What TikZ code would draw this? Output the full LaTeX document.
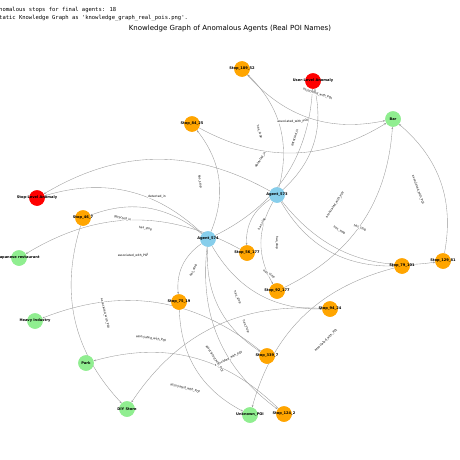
\documentclass[tikz,border=0pt]{standalone}
\usepackage{fontspec}
\setmainfont{DejaVu Sans}
\newfontfamily\monofont{DejaVu Sans Mono}
\usetikzlibrary{arrows.meta}
\definecolor{cskyblue}{HTML}{87CEEB}
\definecolor{corange}{HTML}{FFA500}
\definecolor{cred}{HTML}{FF0000}
\definecolor{cgreen}{HTML}{90EE90}
\tikzset{
  nd/.style={circle, minimum size=15.5pt, inner sep=0pt, draw=none},
  stopn/.style={nd, fill=corange},
  agentn/.style={nd, fill=cskyblue},
  anomn/.style={nd, fill=cred},
  poin/.style={nd, fill=cgreen},
  nlab/.style={font=\fontsize{3.6}{4}\selectfont\bfseries, inner sep=0pt},
  elab/.style={font=\fontsize{3}{3.5}\selectfont, fill=white, inner sep=0.4pt, sloped},
  edgeline/.style={draw=black!40, line width=0.35pt, -{Stealth[length=2.2pt,width=1.8pt]}, bend right=30},
}
\begin{document}
\begin{tikzpicture}[x=1pt,y=-1pt]
\useasboundingbox (0,0) rectangle (460,460);
\fill[white] (0,0) rectangle (460,460);
% header text
\node[anchor=west, inner sep=0pt, font=\monofont\fontsize{5.5}{6}\selectfont] (hdr1) at (-1,9.5) {nomalous stops for final agents: 18};
\node[anchor=west, inner sep=0pt, font=\monofont\fontsize{5.5}{6}\selectfont] (hdr2) at (-1,18.5) {tatic Knowledge Graph as 'knowledge\_graph\_real\_pois.png'.};
\node[inner sep=0pt, font=\fontsize{7}{8}\selectfont] (title) at (230,29) {Knowledge Graph of Anomalous Agents (Real POI Names)};
% nodes
\node[stopn] (s189) at (242,69) {};
\node[anomn] (ula) at (313,81) {};
\node[poin] (bar) at (393,119) {};
\node[stopn] (s84) at (192,124) {};
\node[agentn] (a573) at (277,195) {};
\node[anomn] (sla) at (37,198) {};
\node[stopn] (s46) at (83,218) {};
\node[agentn] (a574) at (208,239) {};
\node[poin] (jap) at (19,258) {};
\node[stopn] (s56) at (247,253) {};
\node[stopn] (s79) at (402,266) {};
\node[stopn] (s129) at (443,261) {};
\node[stopn] (s92) at (277,291) {};
\node[stopn] (s94) at (330,309) {};
\node[stopn] (s75) at (179,302) {};
\node[poin] (heavy) at (35,321) {};
\node[stopn] (s339) at (267,356) {};
\node[poin] (park) at (86,363) {};
\node[poin] (diy) at (127,409) {};
\node[poin] (unk) at (250,415) {};
\node[stopn] (s124) at (284,414) {};
% edges
\foreach \a/\b in {a573/s189,a573/ula,a573/sla,a573/s56,a573/s92,a573/s79,a573/s129,
  a574/s84,a574/ula,a574/sla,a574/s46,a574/s75,a574/s339,a574/s124,a574/s94,
  s189/bar,s84/bar,s92/bar,s129/bar,s56/jap,s46/diy,s94/diy,s75/unk,s79/unk,s339/heavy,s124/park}
  {\draw[edgeline] (\a) to (\b);}
% redraw node fills on top of edges
\foreach \n/\c in {s189/corange,ula/cred,bar/cgreen,s84/corange,a573/cskyblue,sla/cred,s46/corange,a574/cskyblue,jap/cgreen,s56/corange,s79/corange,s129/corange,s92/corange,s94/corange,s75/corange,heavy/cgreen,s339/corange,park/cgreen,diy/cgreen,unk/cgreen,s124/corange}
  {\fill[\c] (\n.center) circle (7.75pt);}
% node labels
\node[nlab] (l1) at (s189) {Stop\_189\_52};
\node[nlab] (l2) at (ula) {User-Level Anomaly};
\node[nlab] (l3) at (bar) {Bar};
\node[nlab] (l4) at (s84) {Stop\_84\_25};
\node[nlab] (l5) at (a573) {Agent\_573};
\node[nlab] (l6) at (sla) {Stop-Level Anomaly};
\node[nlab] (l7) at (s46) {Stop\_46\_7};
\node[nlab] (l8) at (a574) {Agent\_574};
\node[nlab] (l9) at (jap) {Japanese restaurant};
\node[nlab] (l10) at (s56) {Stop\_56\_177};
\node[nlab] (l11) at (s79) {Stop\_79\_101};
\node[nlab] (l12) at (s129) {Stop\_129\_81};
\node[nlab] (l13) at (s92) {Stop\_92\_177};
\node[nlab] (l14) at (s94) {Stop\_94\_24};
\node[nlab] (l15) at (s75) {Stop\_75\_19};
\node[nlab] (l16) at (heavy) {Heavy Industry};
\node[nlab] (l17) at (s339) {Stop\_339\_7};
\node[nlab] (l18) at (park) {Park};
\node[nlab] (l19) at (diy) {DIY Store};
\node[nlab] (l20) at (unk) {Unknown\_POI};
\node[nlab] (l21) at (s124) {Stop\_124\_2};
% edge labels
\foreach \a/\b in {a573/s189,a573/s56,a573/s92,a573/s79,a573/s129,a574/s84,a574/s46,a574/s75,a574/s339,a574/s124,a574/s94}
  {\path (\a.center) -- node[elab] {has\_stop} (\b.center);}
\foreach \a/\b in {a573/ula,a573/sla,a574/ula,a574/sla}
  {\path (\a.center) -- node[elab] {detected\_in} (\b.center);}
\foreach \a/\b in {s189/bar,s84/bar,s92/bar,s129/bar,s56/jap,s46/diy,s94/diy,s75/unk,s79/unk,s339/heavy,s124/park}
  {\path (\a.center) -- node[elab] {associated\_with\_POI} (\b.center);}
\end{tikzpicture}
\end{document}
